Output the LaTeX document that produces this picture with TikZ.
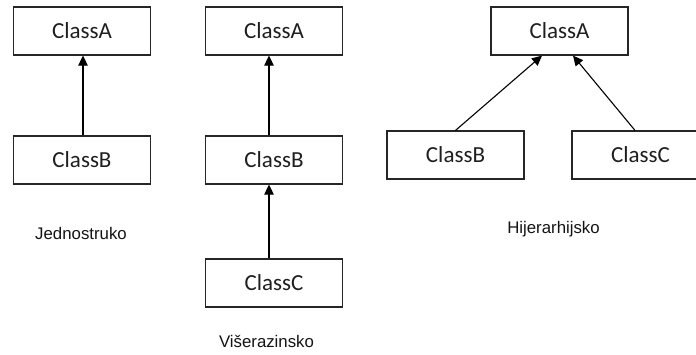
\documentclass[tikz,border=0pt]{standalone}
\usepackage{fontspec}
\setmainfont{Liberation Sans}
\newfontfamily\classfont{Carlito}
\usetikzlibrary{arrows.meta}
\tikzset{
  classbox/.style={draw=black!85, line width=1.2pt, fill=white,
    minimum width=137pt, minimum height=48pt, inner sep=0pt,
    font=\classfont\fontsize{23}{26}\selectfont, text=black!88},
  inherit/.style={draw=black, line width=1.1pt,
    -{Triangle[length=10pt,width=9.5pt]}},
  caption/.style={font=\fontsize{16.8}{19}\selectfont, text=black!92, inner sep=0pt}
}
\begin{document}
\begin{tikzpicture}[x=1pt,y=-1pt]
  \clip (0,0) rectangle (696,354);
  \fill[white] (0,0) rectangle (696,354);

  % single inheritance
  \node[classbox] (a1) at (82,31) {ClassA};
  \node[classbox] (b1) at (82,160) {ClassB};
  \draw[inherit] ([xshift=1pt]b1.north) -- ([xshift=1pt]a1.south);
  \node[caption] (l1) at (81,233) {Jednostruko};

  % multilevel inheritance
  \node[classbox] (a2) at (274,31) {ClassA};
  \node[classbox] (b2) at (274,160) {ClassB};
  \node[classbox] (c2) at (274,283) {ClassC};
  \draw[inherit] ([xshift=-5pt]b2.north) -- ([xshift=-5pt]a2.south);
  \draw[inherit] ([xshift=-5pt]c2.north) -- ([xshift=-5pt]b2.south);
  \node[caption] (l2) at (266.5,341) {Višerazinsko};

  % hierarchical inheritance
  \node[classbox] (a3) at (559.5,31) {ClassA};
  \node[classbox] (b3) at (455.5,155) {ClassB};
  \node[classbox] (c3) at (640.5,155) {ClassC};
  \draw[inherit] (b3.north) -- ([xshift=-17.5pt]a3.south);
  \draw[inherit] ([xshift=-5.5pt]c3.north) -- ([xshift=13.5pt]a3.south);
  \node[caption] (l3) at (553.5,229) {Hijerarhijsko};
\end{tikzpicture}
\end{document}
